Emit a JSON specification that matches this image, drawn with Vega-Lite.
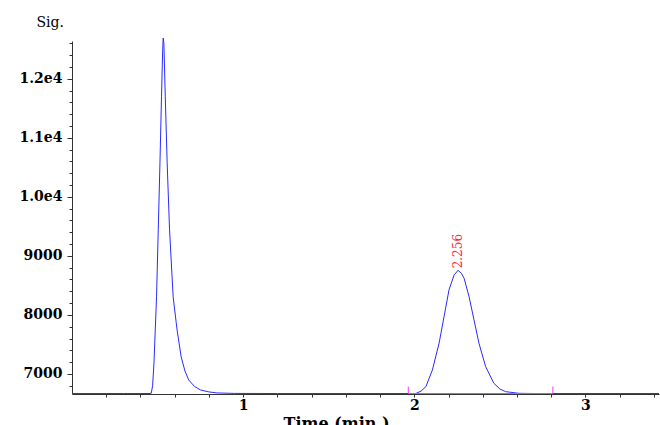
{
  "$schema": "https://vega.github.io/schema/vega-lite/v6.json",
  "width": 587,
  "height": 353,
  "autosize": {"type": "none"},
  "padding": {"left": 72, "top": 41, "right": 1, "bottom": 31},
  "background": "white",
  "config": {
    "view": {"stroke": null},
    "axis": {
      "grid": false,
      "domainColor": "#333333",
      "tickColor": "#333333",
      "labelColor": "#000000",
      "titleColor": "#000000",
      "labelFont": "DejaVu Serif",
      "titleFont": "DejaVu Serif",
      "labelOverlap": false,
      "labelFlush": false,
      "labelBound": false
    }
  },
  "datasets": {
    "trace": [
      {"t": 0, "v": 6668}, {"t": 0.3, "v": 6668}, {"t": 0.45, "v": 6668},
      {"t": 0.463, "v": 6672}, {"t": 0.471, "v": 6800}, {"t": 0.479, "v": 7186},
      {"t": 0.494, "v": 8305}, {"t": 0.504, "v": 9441}, {"t": 0.514, "v": 10577},
      {"t": 0.523, "v": 11695}, {"t": 0.530, "v": 12500}, {"t": 0.533, "v": 12690},
      {"t": 0.537, "v": 12600}, {"t": 0.545, "v": 11695}, {"t": 0.556, "v": 10577},
      {"t": 0.570, "v": 9441}, {"t": 0.591, "v": 8305}, {"t": 0.614, "v": 7746},
      {"t": 0.638, "v": 7288}, {"t": 0.660, "v": 7050}, {"t": 0.682, "v": 6898},
      {"t": 0.715, "v": 6790}, {"t": 0.750, "v": 6729}, {"t": 0.800, "v": 6695},
      {"t": 0.847, "v": 6678}, {"t": 0.95, "v": 6670}, {"t": 1.2, "v": 6668},
      {"t": 2.0, "v": 6668}, {"t": 2.010, "v": 6670}, {"t": 2.040, "v": 6710},
      {"t": 2.068, "v": 6785}, {"t": 2.106, "v": 7068}, {"t": 2.145, "v": 7520},
      {"t": 2.174, "v": 7971}, {"t": 2.203, "v": 8424}, {"t": 2.233, "v": 8678},
      {"t": 2.256, "v": 8755}, {"t": 2.275, "v": 8705}, {"t": 2.291, "v": 8622},
      {"t": 2.320, "v": 8310}, {"t": 2.349, "v": 7915}, {"t": 2.378, "v": 7520},
      {"t": 2.417, "v": 7124}, {"t": 2.465, "v": 6842}, {"t": 2.500, "v": 6745},
      {"t": 2.533, "v": 6700}, {"t": 2.61, "v": 6672}, {"t": 2.7, "v": 6668},
      {"t": 3.43, "v": 6668}
    ],
    "integration": [
      {"t": 1.965, "v": 6787, "o": 0},
      {"t": 1.965, "v": 6668, "o": 1},
      {"t": 2.81, "v": 6668, "o": 2},
      {"t": 2.81, "v": 6787, "o": 3}
    ],
    "peaks": [
      {"t": 2.256, "v": 8755, "label": "2.256"}
    ]
  },
  "layer": [
    {
      "data": {"name": "trace"},
      "mark": {"type": "line", "color": "#2a2aff", "strokeWidth": 1, "clip": false},
      "encoding": {
        "x": {
          "field": "t", "type": "quantitative",
          "scale": {"domain": [0, 3.43], "nice": false, "zero": false},
          "axis": {
            "values": [0.2, 0.4, 0.6, 0.8, 1, 1.2, 1.4, 1.6, 1.8, 2, 2.2, 2.4, 2.6, 2.8, 3, 3.2, 3.4],
            "tickCount": 100,
            "labelExpr": "abs(datum.value - round(datum.value)) < 0.001 ? format(datum.value, 'd') : ''",
            "tickSize": 3,
            "labelPadding": 1,
            "labelFontSize": 14,
            "labelFontWeight": "bold",
            "labelOverlap": false,
            "title": "Time (min.)",
            "titleFontSize": 16,
            "titleFontWeight": "bold",
            "titleAlign": "center",
            "titleBaseline": "alphabetic",
            "titleX": 264,
            "titleY": 34
          }
        },
        "y": {
          "field": "v", "type": "quantitative",
          "scale": {"domain": [6660, 12640], "nice": false, "zero": false},
          "axis": {
            "values": [6800, 7000, 7200, 7400, 7600, 7800, 8000, 8200, 8400, 8600, 8800, 9000, 9200, 9400, 9600, 9800, 10000, 10200, 10400, 10600, 10800, 11000, 11200, 11400, 11600, 11800, 12000, 12200, 12400, 12600],
            "tickCount": 100,
            "labelExpr": "datum.value % 1000 === 0 ? (datum.value >= 10000 ? format(datum.value / 10000, '.1f') + 'e4' : format(datum.value, 'd')) : ''",
            "tickSize": {"condition": {"test": "datum.value % 1000 === 0", "value": 5}, "value": 3},
            "labelPadding": 5,
            "labelFontSize": 14,
            "labelFontWeight": "bold",
            "labelOverlap": false,
            "title": "Sig.",
            "titleAngle": 0,
            "titleAlign": "left",
            "titleBaseline": "alphabetic",
            "titleFontSize": 14,
            "titleFontWeight": "normal",
            "titleX": -36,
            "titleY": -15
          }
        }
      }
    },
    {
      "data": {"name": "integration"},
      "mark": {"type": "line", "color": "#ff33ff", "strokeWidth": 1},
      "encoding": {
        "x": {"field": "t", "type": "quantitative"},
        "y": {"field": "v", "type": "quantitative"},
        "order": {"field": "o", "type": "quantitative"}
      }
    },
    {
      "data": {"name": "peaks"},
      "mark": {"type": "text", "color": "#ff2a2a", "font": "DejaVu Serif", "fontSize": 12, "angle": 270, "align": "left", "baseline": "middle", "dx": 2},
      "encoding": {
        "x": {"field": "t", "type": "quantitative"},
        "y": {"field": "v", "type": "quantitative"},
        "text": {"field": "label", "type": "nominal"}
      }
    }
  ]
}
